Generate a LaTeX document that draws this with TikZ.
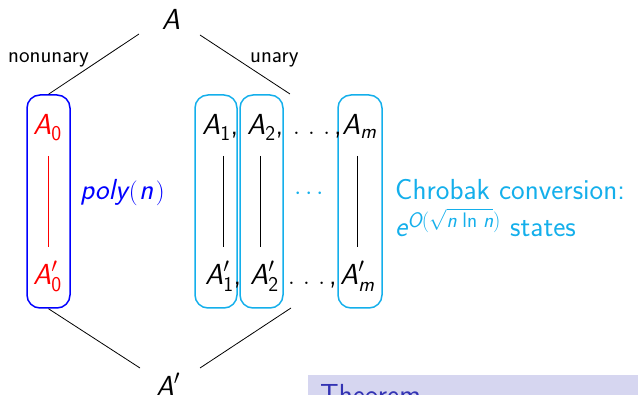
\documentclass[tikz,border=0pt]{standalone}
\usepackage{amsmath}
\DeclareMathSizes{29}{29}{21}{16}
\definecolor{cyanb}{RGB}{20,175,235}
\definecolor{thmbg}{RGB}{214,214,240}
\definecolor{thmfg}{RGB}{51,51,179}
\newcommand\mA{\textit{A}}
\newcommand\up[1]{\textup{#1}}
\newcommand\sdots{\ldotp\,\ldotp\,\ldotp}
\begin{document}
\begin{tikzpicture}[x=1pt,y=-1pt,
  big/.style={font=\fontsize{29}{35}\selectfont\sffamily, inner sep=0pt},
  lbl/.style={font=\fontsize{22.5}{27}\selectfont\sffamily, inner sep=0pt},
  grp/.style={draw, line width=1.5pt, rounded corners=13pt, minimum width=43pt, minimum height=213pt, inner sep=0pt},
  link/.style={line width=0.8pt}]
\useasboundingbox (0,0) rectangle (638,395);
\clip (0,0) rectangle (638,395);

% top and labels
\node[big, anchor=base] (A) at (171,30) {$\mA$};
\node[lbl, anchor=base west] (nonun) at (8,63) {nonunary};
\node[lbl, anchor=base west] (un) at (250,63) {unary};

% group boxes
\node[grp, draw=blue] (b0) at (48.5,201.5) {};
\node[grp, draw=cyanb, minimum width=42pt] (b1) at (216,201.5) {};
\node[grp, draw=cyanb] (b2) at (261.5,201.5) {};
\node[grp, draw=cyanb, minimum width=44pt] (bm) at (360,201.5) {};

% top row
\node[big, anchor=base west, text=red] (a0) at (33,135) {$\mA_{\up{0}}$};
\node[big, anchor=base west] (a1) at (202,135) {$\mA_{\up{1}}$,};
\node[big, anchor=base west] (a2) at (247,135) {$\mA_{\up{2}}$,};
\node[big, anchor=base west] (adots) at (293,135) {$\sdots\,$,};
\node[big, anchor=base west] (am) at (342,135) {$\mA_{\textit{m}}$};

% bottom row
\node[big, anchor=base west, text=red] (a0p) at (33,285) {$\mA'_{\up{0}}$};
\node[big, anchor=base west] (a1p) at (205,285) {$\mA'_{\up{1}}$,};
\node[big, anchor=base west] (a2p) at (250,285) {$\mA'_{\up{2}}$};
\node[big, anchor=base west] (apdots) at (288,285) {$\sdots\,$,};
\node[big, anchor=base west] (amp) at (340,285) {$\mA'_{\textit{m}}$};

% vertical connectors
\coordinate (v0t) at (48,156); \coordinate (v0b) at (48,247);
\coordinate (v1t) at (223,156); \coordinate (v1b) at (223,247);
\coordinate (v2t) at (260,156); \coordinate (v2b) at (260,247);
\coordinate (vmt) at (357,156); \coordinate (vmb) at (357,247);
\draw[link, red] (v0t) -- (v0b);
\draw[link] (v1t) -- (v1b);
\draw[link] (v2t) -- (v2b);
\draw[link] (vmt) -- (vmb);

% middle texts
\node[big, anchor=base west, text=blue] (poly) at (80,200) {$\textit{poly}\mkern1mu(\mkern1mu\textit{n}\mkern2mu)$};
\node[big, anchor=base, text=cyanb] (cdots) at (311,200) {$\cdots$};
\node[big, anchor=base west, text=cyanb] (chrob) at (395,200) {Chrobak conversion:};
\node[big, anchor=base west, text=cyanb] (states) at (395,237)
  {$\textit{e}^{\textit{O}(\sqrt{\textit{n}\;\up{ln}\;\textit{n}})}$ states};

% bottom node
\node[big, anchor=base] (Ap) at (168,397) {$\mA'$};

% diagonal connectors
\coordinate (tl) at (139,34);
\coordinate (tr) at (200,35);
\coordinate (tre) at (290,94);
\coordinate (bl) at (140,368);
\coordinate (br) at (200,368);
\coordinate (bre) at (291,308);
\draw[link] (tl) -- (b0.north);
\draw[link] (tr) -- (tre);
\draw[link] (b0.south) -- (bl);
\draw[link] (bre) -- (br);

% theorem block (cut off)
\fill[thmbg] (308,375) rectangle (650,430);
\node[big, anchor=base west, text=thmfg] (thm) at (320,405) {Theorem};
\end{tikzpicture}
\end{document}
